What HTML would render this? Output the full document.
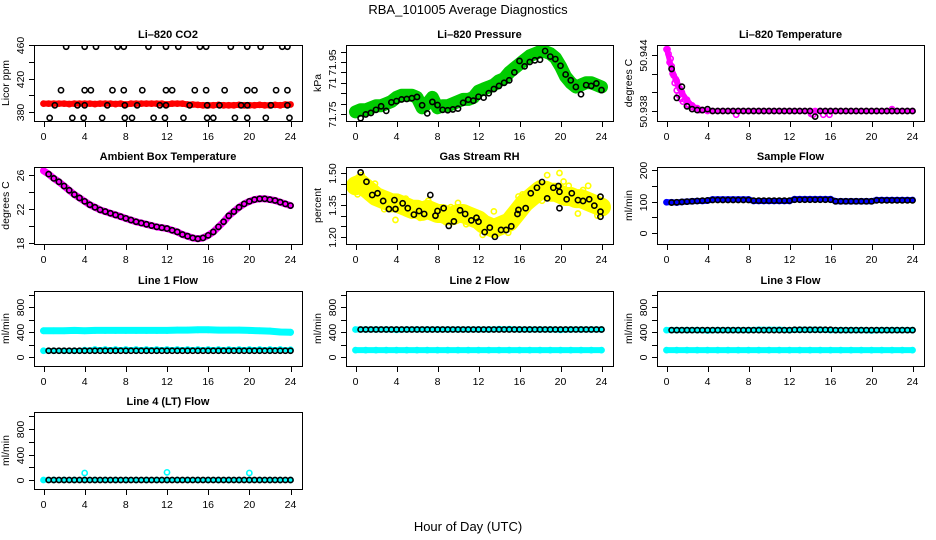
<!DOCTYPE html>
<html><head><meta charset="utf-8"><title>RBA_101005 Average Diagnostics</title>
<style>
html,body{margin:0;padding:0;background:#fff;width:936px;height:540px;overflow:hidden}
svg{display:block;font-family:"Liberation Sans",Arial,sans-serif}
</style></head>
<body>
<svg id="chart" width="936" height="540" viewBox="0 0 936 540" xmlns="http://www.w3.org/2000/svg">
<rect x="0" y="0" width="936" height="540" fill="#fff"/>
<text x="468" y="14" text-anchor="middle" font-size="13">RBA_101005  Average Diagnostics</text>
<text x="468" y="531" text-anchor="middle" font-size="13">Hour of Day (UTC)</text>
</svg>
<script>
// ---------- shared x data ----------
const xTicks = [0,4,8,12,16,20,24];
const halfHours = [0,0.5,1,1.5,2,2.5,3,3.5,4,4.5,5,5.5,6,6.5,7,7.5,8,8.5,9,9.5,10,10.5,11,11.5,12,12.5,13,13.5,14,14.5,15,15.5,16,16.5,17,17.5,18,18.5,19,19.5,20,20.5,21,21.5,22,22.5,23,23.5,24];
const blackHours = [0.5,1,1.5,2,2.5,3,3.5,4,4.5,5,5.5,6,6.5,7,7.5,8,8.5,9,9.5,10,10.5,11,11.5,12,12.5,13,13.5,14,14.5,15,15.5,16,16.5,17,17.5,18,18.5,19,19.5,20,20.5,21,21.5,22,22.5,23,23.5,24];
const hours = [0,1,2,3,4,5,6,7,8,9,10,11,12,13,14,15,16,17,18,19,20,21,22,23,24];

// ---------- Li-820 CO2 ----------
const co2Red = [390,390,390,390,390,389.5,390,390,390,390,389.5,390,390,390,389.5,390,389,390,390,390,390,390,390,390,389,390,390,390,389,389,388.5,388,388,388,388.5,388,388,388,388.5,388,388,388,388.5,388,388,388.5,388,389,389];
const co2BlackHours = [2.2,4.0,5.1,7.2,7.8,10.2,11.9,13.1,15.2,15.8,18.2,19.8,21.1,23.2,23.7, 1.7,4.0,4.6,6.7,7.8,9.6,11.9,12.5,14.7,15.8,17.6,19.8,20.5,22.6,23.7, 1.1,3.3,4.0,6.2,7.9,9.1,11.3,11.9,14.2,15.9,17.1,19.2,19.8,22.1,23.7, 0.6,2.8,3.9,5.7,7.9,8.6,10.7,11.8,13.6,15.9,16.5,18.6,19.8,21.6,23.9];
const co2BlackValues = [458,458,458,458,458,458,458,458,458,458,458,458,458,458,458, 406,406,406,406,406,406,406,406,406,406,406,406,406,406,406, 388,388,388,388,388,388,388,388,388,388,388,388,388,388,388, 373,373,373,373,373,373,373,373,373,373,373,373,373,373,373];

// ---------- Li-820 Pressure ----------
const presGreen = [71.76,71.77,71.77,71.78,71.79,71.79,71.80,71.81,71.83,71.84,71.84,71.84,71.83,71.78,71.80,71.83,71.78,71.79,71.79,71.80,71.81,71.82,71.82,71.83,71.86,71.87,71.88,71.89,71.91,71.92,71.95,71.97,71.99,72.01,72.03,72.04,72.05,72.05,72.04,72.02,71.98,71.93,71.90,71.88,71.89,71.90,71.90,71.89,71.88];
const presBlack = [71.73,71.748,71.755,71.77,71.787,71.765,71.806,71.812,71.82,71.822,71.826,71.832,71.792,71.753,71.808,71.793,71.77,71.768,71.772,71.776,71.804,71.819,71.814,71.833,71.829,71.85,71.87,71.885,71.9,71.912,71.95,72.005,71.979,72.0,72.008,72.011,72.053,72.026,72.014,71.982,71.94,71.912,71.88,71.845,71.889,71.885,71.897,71.865];

// ---------- Li-820 Temperature ----------
const tempMagenta = [50.9446,50.9425,50.9412,50.9400,50.9392,50.9386,50.9383,50.9381,50.938,50.938,50.938,50.938,50.938,50.938,50.938,50.938,50.938,50.938,50.938,50.938,50.938,50.938,50.938,50.938,50.938,50.938,50.938,50.938,50.938,50.938,50.938,50.938,50.938,50.938,50.938,50.938,50.938,50.938,50.938,50.938,50.938,50.938,50.938,50.938,50.938,50.938,50.938,50.938,50.938];
const tempScatterHours = [0.1,0.2,0.3,0.4,0.5,0.6,0.7,0.8,0.9,1.0,1.1,1.2,1.3,1.4,1.5,1.6,1.8,2.0,2.2,2.5,2.8,3.2,6.8,14.1,14.3,15.3,15.9,22.0];
const tempScatterValues = [50.9446,50.9441,50.9432,50.9436,50.9428,50.9420,50.9418,50.9410,50.9414,50.9402,50.9408,50.9397,50.9404,50.9393,50.9399,50.9390,50.9392,50.9387,50.9386,50.9384,50.9383,50.9381,50.9376,50.9377,50.9376,50.9376,50.9376,50.9382];
const tempBlack = [50.9425,50.9394,50.9406,50.9385,50.9382,50.9381,50.9381,50.9382,50.938,50.938,50.938,50.938,50.938,50.938,50.938,50.938,50.938,50.938,50.938,50.938,50.938,50.938,50.938,50.938,50.938,50.938,50.938,50.938,50.9374,50.938,50.938,50.938,50.938,50.938,50.938,50.938,50.938,50.938,50.938,50.938,50.938,50.938,50.938,50.938,50.938,50.938,50.938,50.938];

// ---------- Ambient Box Temperature ----------
const ambMagenta = [26.5,26.1,25.6,25.2,24.7,24.2,23.7,23.3,22.9,22.5,22.2,21.9,21.7,21.5,21.3,21.1,20.9,20.7,20.5,20.35,20.2,20.05,19.9,19.8,19.7,19.5,19.3,19.0,18.8,18.6,18.5,18.6,18.9,19.3,19.9,20.5,21.2,21.7,22.2,22.6,22.9,23.1,23.2,23.2,23.1,23.0,22.8,22.6,22.4];
const ambBlack = [26.1,25.6,25.2,24.7,24.2,23.7,23.3,22.9,22.5,22.2,21.9,21.7,21.5,21.3,21.1,20.9,20.7,20.5,20.35,20.2,20.05,19.9,19.8,19.7,19.5,19.3,19.0,18.8,18.6,18.5,18.6,18.9,19.3,19.9,20.5,21.2,21.7,22.2,22.6,22.9,23.1,23.2,23.2,23.1,23.0,22.8,22.6,22.4];

// ---------- Gas Stream RH ----------
const rhYellow = [1.44,1.45,1.43,1.41,1.39,1.38,1.37,1.36,1.36,1.35,1.34,1.33,1.33,1.32,1.33,1.32,1.31,1.31,1.30,1.30,1.31,1.31,1.30,1.29,1.28,1.26,1.25,1.24,1.25,1.26,1.27,1.30,1.33,1.36,1.38,1.40,1.42,1.42,1.41,1.41,1.40,1.39,1.39,1.38,1.38,1.37,1.36,1.35,1.34];
const rhScatterHours = [0.2,0.6,1.9,2.3,3.9,6.3,7.1,8.8,10.0,11.4,12.4,13.2,13.5,15.9,17.9,18.7,19.9,20.8,21.7,22.7,23.4,23.6,0.3,1.2,2.8,4.9,5.5,9.3,10.8,14.9,16.3,18.2,20.3,22.2];
const rhScatterValues = [1.40,1.49,1.45,1.40,1.28,1.29,1.37,1.27,1.36,1.30,1.21,1.27,1.32,1.39,1.45,1.49,1.50,1.44,1.31,1.44,1.34,1.30,1.48,1.40,1.33,1.38,1.30,1.34,1.26,1.22,1.40,1.37,1.46,1.42];
const rhBlackHours = [0.5,1.07,1.63,2.15,2.7,3.26,3.8,3.9,4.6,5.1,5.7,6.2,6.7,7.3,7.8,8.0,8.6,9.1,9.6,10.2,10.7,11.3,11.8,12.0,12.6,13.1,13.6,14.2,14.7,15.2,15.8,15.9,16.6,17.1,17.7,18.2,18.7,19.3,19.8,19.9,19.9,20.6,21.1,21.7,22.2,22.8,23.3,23.9,23.9,23.9];
const rhBlackValues = [1.503,1.459,1.397,1.405,1.369,1.331,1.373,1.331,1.358,1.335,1.305,1.322,1.308,1.397,1.30,1.322,1.335,1.252,1.273,1.325,1.308,1.278,1.29,1.272,1.223,1.244,1.201,1.233,1.233,1.25,1.308,1.327,1.335,1.405,1.431,1.458,1.381,1.431,1.439,1.335,1.412,1.377,1.405,1.373,1.369,1.377,1.347,1.389,1.319,1.295];

// ---------- Sample Flow ----------
const sampleBlue = [98,98,97,99,100,101,102,102,103,107,107,107,107,107,107,107,107,102,102,102,102,102,102,102,102,108,108,108,108,108,108,108,108,101,101,101,101,101,101,101,101,105,105,105,105,105,105,105,105];
const sampleBlack = [97,98,99,100,101,102,103,104,105,105,105,105,105,105,105,105,103,103,103,103,103,103,103,103,106,106,106,106,106,106,106,106,101,101,101,101,101,101,101,101,104,104,104,104,104,104,104,104];

// ---------- Line flows ----------
const line1CyanHigh = [420,420,420,425,420,425,425,425,425,425,425,425,425,430,430,435,435,430,430,430,425,420,415,400,395];
const line1CyanLow = [100,100,100,100,110,120,120,120,120,120,120,120,120,120,120,120,120,120,120,120,120,120,120,120,115];
const line1Black = [100,100,100,100,100,100,100,100,100,100,100,100,100,100,100,100,100,100,100,100,100,100,100,100,100,100,100,100,100,100,100,100,100,100,100,100,100,100,100,100,100,100,100,100,100,100,100,100];
const line2CyanHigh = [440,440,440,440,435,440,440,440,440,440,440,440,440,440,445,445,440,440,440,440,435,440,440,440,440];
const line2CyanLow = [110,110,110,110,110,110,110,110,110,110,110,110,110,110,110,110,110,110,110,110,110,110,110,110,110];
const line2Black = [440,440,440,440,440,440,440,440,440,440,440,440,440,440,440,440,440,440,440,440,440,440,440,440,440,440,440,440,440,440,440,440,440,440,440,440,440,440,440,440,440,440,440,440,440,440,440,440];
const line3CyanHigh = [430,430,430,430,425,430,430,430,430,435,435,435,430,435,435,435,430,430,430,430,425,430,430,430,430];
const line3CyanLow = [110,110,110,110,110,110,110,110,110,110,110,110,110,110,110,110,110,110,110,110,110,110,110,110,110];
const line3Black = [430,430,430,430,430,430,430,430,430,430,430,430,430,430,430,430,430,430,430,430,430,430,430,430,435,435,435,435,435,435,435,435,430,430,430,430,430,430,430,430,430,430,430,430,430,430,430,430];
const line4Cyan = [0,0,0,0,0,0,0,0,0,0,0,0,0,0,0,0,0,0,0,0,0,0,0,0,0];
const line4SpikeHours = [4,12,20];
const line4SpikeValues = [110,120,110];
const line4Black = [0,0,0,0,0,0,0,0,0,0,0,0,0,0,0,0,0,0,0,0,0,0,0,0,0,0,0,0,0,0,0,0,0,0,0,0,0,0,0,0,0,0,0,0,0,0,0,0];

// ---------- drawing ----------
const NS = "http://www.w3.org/2000/svg";
const svg = document.getElementById("chart");
function mk(tag, attrs, parent){
  const e = document.createElementNS(NS, tag);
  for (const k in attrs) e.setAttribute(k, attrs[k]);
  (parent || svg).appendChild(e);
  return e;
}
const cols = [[34,302],[346,613],[657,924]];
const rows = [[45,121],[167,244],[291,366],[412,489]];

function panel(p){
  const g = mk("g", {});
  
  
  const [L,R] = cols[p.col], [T,B] = rows[p.row];
  const x0 = L + 9.5, x1 = R - 11.5;
  const xs = h => x0 + (x1 - x0) * h / 24;
  const ys = v => p.y0px - (v - p.y0) * p.pxPerUnit;
  const ag = mk("g", {stroke:"#000", "stroke-width":1, fill:"none"}, g);
  mk("rect", {x:L+0.5, y:T+0.5, width:R-L, height:B-T}, ag);
  mk("line", {x1:xs(0), y1:B+0.5, x2:xs(24), y2:B+0.5}, ag);
  xTicks.forEach(t => {
    mk("line", {x1:Math.round(xs(t))+0.5, y1:B, x2:Math.round(xs(t))+0.5, y2:B+6}, ag);
    const tx = mk("text", {x:xs(t), y:B+19, "text-anchor":"middle", "font-size":10.5, fill:"#000", stroke:"none"}, g);
    tx.textContent = t;
    
    
  });
  mk("line", {x1:L+0.5, y1:ys(p.yTicks[0]), x2:L+0.5, y2:ys(p.yTicks[p.yTicks.length-1])}, ag);
  p.yTicks.forEach((t,i) => {
    const y = Math.round(ys(t)) + 0.5;
    mk("line", {x1:L-5, y1:y, x2:L, y2:y}, ag);
    if (p.yLabels[i]) {
      const tx = mk("text", {x:L-10, y:y, "text-anchor":"middle", "font-size":10.5, fill:"#000", transform:"rotate(-90 "+(L-10)+" "+y+")"}, g);
      tx.textContent = p.yLabels[i];
      
      
    }
  });
  const yl = mk("text", {x:L-25, y:(T+B)/2, "text-anchor":"middle", "font-size":10.5, fill:"#000", transform:"rotate(-90 "+(L-25)+" "+((T+B)/2)+")"}, g);
  yl.textContent = p.ylab;
  
  
  const ti = mk("text", {x:(L+R)/2, y:T-7, "text-anchor":"middle", "font-size":11, "font-weight":"bold", fill:"#000"}, g);
  ti.textContent = p.title;
  
  
  const cp = mk("clipPath", {id:"clip"+p.name}, g);
  mk("rect", {x:L+1, y:T+1, width:R-L-1, height:B-T-1}, cp);
  const dg = mk("g", {"clip-path":"url(#clip"+p.name+")"}, g);
  p.series.forEach(s => {
    const sg = mk("g", {}, dg);
    
    
    if (s.band) {
      const pts = s.x.map((h,i) => xs(h).toFixed(1)+","+ys(s.y[i]).toFixed(1)).join(" ");
      const pl = mk("polyline", {points:pts, fill:"none", stroke:s.color, "stroke-width":s.band, "stroke-linejoin":"round", "stroke-linecap":"round"}, sg);
      
      
    }
    s.x.forEach((h,i) => {
      const c = mk("circle", {cx:xs(h), cy:ys(s.y[i]), r:2.6, fill:"none", stroke:s.color, "stroke-width":1.6}, sg);
      
      
    });
  });
}

const BK = "#000";
panel({name:"co2", col:0, row:0, title:"Li\u2013820 CO2", ylab:"Licor ppm", y0:380, y0px:112, pxPerUnit:0.8375,
  yTicks:[380,400,420,440,460], yLabels:["380","","420","","460"],
  series:[{name:"co2-red", x:halfHours, y:co2Red, color:"#f00", band:6},
          {name:"co2-black", x:co2BlackHours, y:co2BlackValues, color:BK}]});
panel({name:"pressure", col:1, row:0, title:"Li\u2013820 Pressure", ylab:"kPa", y0:71.75, y0px:114, pxPerUnit:208,
  yTicks:[71.75,71.80,71.85,71.90,71.95,72.00,72.05], yLabels:["71.75","","","71","","71.95",""],
  series:[{name:"pressure-green", x:halfHours, y:presGreen, color:"#00cc00", band:13},
          {name:"pressure-black", x:blackHours, y:presBlack, color:BK}]});
panel({name:"licor-temp", col:2, row:0, title:"Li\u2013820 Temperature", ylab:"degrees C", y0:50.938, y0px:111, pxPerUnit:9350,
  yTicks:[50.938,50.940,50.942,50.944], yLabels:["50.938","","","50.944"],
  series:[{name:"temp-magenta", x:halfHours, y:tempMagenta, color:"#ff00ff", band:5},
          {name:"temp-magenta-scatter", x:tempScatterHours, y:tempScatterValues, color:"#ff00ff"},
          {name:"temp-black", x:blackHours, y:tempBlack, color:BK}]});
panel({name:"ambient", col:0, row:1, title:"Ambient Box Temperature", ylab:"degrees C", y0:18, y0px:243, pxPerUnit:8.5,
  yTicks:[18,20,22,24,26], yLabels:["18","","22","","26"],
  series:[{name:"ambient-magenta", x:halfHours, y:ambMagenta, color:"#ff00ff", band:7},
          {name:"ambient-black", x:blackHours, y:ambBlack, color:BK}]});
panel({name:"rh", col:1, row:1, title:"Gas Stream RH", ylab:"percent", y0:1.20, y0px:237, pxPerUnit:213.3,
  yTicks:[1.20,1.25,1.30,1.35,1.40,1.45,1.50], yLabels:["1.20","","","1.35","","","1.50"],
  series:[{name:"rh-yellow", x:halfHours, y:rhYellow, color:"#ffff00", band:19},
          {name:"rh-yellow-scatter", x:rhScatterHours, y:rhScatterValues, color:"#ffff00"},
          {name:"rh-black", x:rhBlackHours, y:rhBlackValues, color:BK}]});
panel({name:"sample-flow", col:2, row:1, title:"Sample Flow", ylab:"ml/min", y0:0, y0px:233, pxPerUnit:0.314,
  yTicks:[0,50,100,150,200], yLabels:["0","","100","","200"],
  series:[{name:"sample-blue", x:halfHours, y:sampleBlue, color:"#0000ff", band:6},
          {name:"sample-black", x:blackHours, y:sampleBlack, color:BK}]});
const flowTicks = [0,200,400,600,800,1000], flowLabels = ["0","","400","","800",""];
panel({name:"line1", col:0, row:2, title:"Line 1 Flow", ylab:"ml/min", y0:0, y0px:357, pxPerUnit:0.0625,
  yTicks:flowTicks, yLabels:flowLabels,
  series:[{name:"line1-cyan-high", x:hours, y:line1CyanHigh, color:"#00ffff", band:7},
          {name:"line1-cyan-low", x:hours, y:line1CyanLow, color:"#00ffff", band:5},
          {name:"line1-black", x:blackHours, y:line1Black, color:BK}]});
panel({name:"line2", col:1, row:2, title:"Line 2 Flow", ylab:"ml/min", y0:0, y0px:357, pxPerUnit:0.0625,
  yTicks:flowTicks, yLabels:flowLabels,
  series:[{name:"line2-cyan-high", x:hours, y:line2CyanHigh, color:"#00ffff", band:6},
          {name:"line2-cyan-low", x:hours, y:line2CyanLow, color:"#00ffff", band:6},
          {name:"line2-black", x:blackHours, y:line2Black, color:BK}]});
panel({name:"line3", col:2, row:2, title:"Line 3 Flow", ylab:"ml/min", y0:0, y0px:357, pxPerUnit:0.0625,
  yTicks:flowTicks, yLabels:flowLabels,
  series:[{name:"line3-cyan-high", x:hours, y:line3CyanHigh, color:"#00ffff", band:6},
          {name:"line3-cyan-low", x:hours, y:line3CyanLow, color:"#00ffff", band:6},
          {name:"line3-black", x:blackHours, y:line3Black, color:BK}]});
panel({name:"line4", col:0, row:3, title:"Line 4 (LT) Flow", ylab:"ml/min", y0:0, y0px:480, pxPerUnit:0.06375,
  yTicks:flowTicks, yLabels:flowLabels,
  series:[{name:"line4-cyan", x:hours, y:line4Cyan, color:"#00ffff", band:5},
          {name:"line4-cyan-spikes", x:line4SpikeHours, y:line4SpikeValues, color:"#00ffff"},
          {name:"line4-black", x:blackHours, y:line4Black, color:BK}]});
</script>
</body></html>
